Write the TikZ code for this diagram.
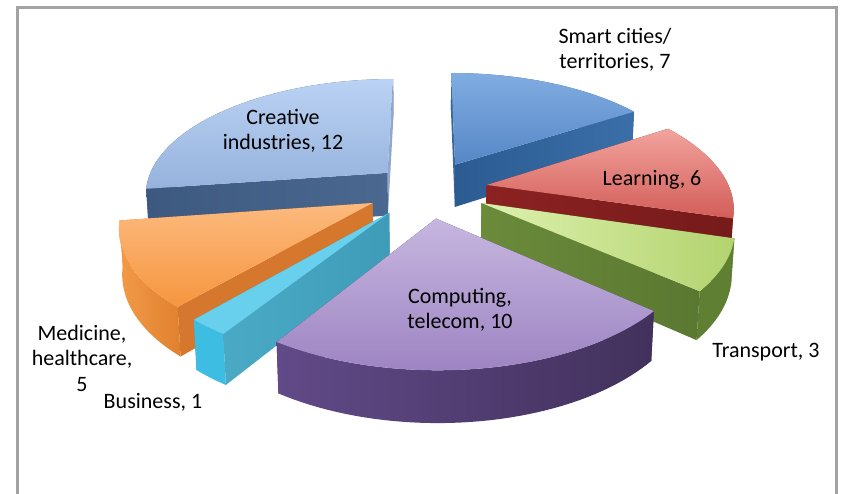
\documentclass[tikz,border=0pt]{standalone}
\usepackage{fontspec}
\setmainfont{Carlito}
\definecolor{frameC}{HTML}{A3A3A3}
\definecolor{smT1}{HTML}{80ACE1}\definecolor{smT2}{HTML}{5687C6}
\definecolor{smS1}{HTML}{2B5B91}\definecolor{smS2}{HTML}{3B6FA9}
\definecolor{smE}{HTML}{3A679C}
\definecolor{crT1}{HTML}{BAD2F4}\definecolor{crT2}{HTML}{96B2DC}
\definecolor{crS1}{HTML}{3D5980}\definecolor{crS2}{HTML}{4A6890}
\definecolor{crE}{HTML}{8FA8CC}
\definecolor{lrT1}{HTML}{F2A39D}\definecolor{lrT2}{HTML}{D35D58}
\definecolor{lrS1}{HTML}{8C2222}\definecolor{lrS2}{HTML}{761A1A}
\definecolor{lrO}{HTML}{9A2E2B}
\definecolor{mdT1}{HTML}{FCBA7E}\definecolor{mdT2}{HTML}{F6963F}
\definecolor{mdO1}{HTML}{F29A48}\definecolor{mdO2}{HTML}{E0812F}
\definecolor{mdR}{HTML}{D5772D}
\definecolor{trT1}{HTML}{DDF1AE}\definecolor{trT2}{HTML}{B3D36F}
\definecolor{trS1}{HTML}{6B8B3B}\definecolor{trS2}{HTML}{5A7830}
\definecolor{trO}{HTML}{5F7F33}
\definecolor{buT}{HTML}{68CFEC}
\definecolor{buS1}{HTML}{4AAAC6}\definecolor{buS2}{HTML}{3F9CB8}
\definecolor{buO}{HTML}{3DBDE2}
\definecolor{cpT1}{HTML}{C6B6DF}\definecolor{cpT2}{HTML}{9E85C3}
\definecolor{cpO1}{HTML}{614A88}\definecolor{cpO2}{HTML}{42315C}
\newcommand\slc[3]{%
  \pgfmathsetmacro\sa{#1}%
  \pgfmathsetmacro\sb{#2}%
  \pgfmathsetmacro\sm{(#1+#2)/2}%
  \pgfmathsetmacro\sox{#3*cos(\sm)}%
  \pgfmathsetmacro\soy{#3*sin(\sm)}%
}
\def\thk{0.2}
\newcommand\topface[1]{%
  \path[#1] ({PX(\sox,\soy,0)},{PY(\sox,\soy,0)})
    -- plot[domain=\sa:\sb,samples=45,variable=\q]
       ({PX(\sox+cos(\q),\soy+sin(\q),0)},{PY(\sox+cos(\q),\soy+sin(\q),0)})
    -- cycle;}
\newcommand\outface[1]{%
  \path[#1] plot[domain=\sa:\sb,samples=45,variable=\q]
       ({PX(\sox+cos(\q),\soy+sin(\q),0)},{PY(\sox+cos(\q),\soy+sin(\q),0)})
    -- plot[domain=\sb:\sa,samples=45,variable=\q]
       ({PX(\sox+cos(\q),\soy+sin(\q),-\thk)},{PY(\sox+cos(\q),\soy+sin(\q),-\thk)})
    -- cycle;}
\newcommand\radface[2]{%
  \path[#2] ({PX(\sox,\soy,0)},{PY(\sox,\soy,0)})
    -- ({PX(\sox+cos(#1),\soy+sin(#1),0)},{PY(\sox+cos(#1),\soy+sin(#1),0)})
    -- ({PX(\sox+cos(#1),\soy+sin(#1),-\thk)},{PY(\sox+cos(#1),\soy+sin(#1),-\thk)})
    -- ({PX(\sox,\soy,-\thk)},{PY(\sox,\soy,-\thk)}) -- cycle;}
\begin{document}
\begin{tikzpicture}[x=1pt,y=1pt,
  declare function={
    PX(\pu,\pv,\pz)=427+243*\pu/(1+0.169*\pv-0.05*\pz);
    PY(\pu,\pv,\pz)=305+(114.7*\pv+220*\pz)/(1+0.169*\pv-0.05*\pz);
  },
  lbl/.style={font=\fontsize{22}{25.5}\selectfont, align=center, text=black, inner sep=0pt},
  frame/.style={draw=frameC, line width=2.5pt}
]
\useasboundingbox (0,0) rectangle (843,494);
\fill[white] (0,0) rectangle (843,494);
\draw[frame] (17.5,0) -- (17.5,486.5) -- (836.5,486.5) -- (836.5,0);

% Smart cities
\slc{32.727}{90}{0.25}
\outface{fill=smS1}
\radface{90}{fill=smE}
\radface{32.727}{left color=smS1,right color=smS2}
\topface{top color=smT1,bottom color=smT2}

% Creative industries
\slc{90}{188.182}{0.22}
\outface{fill=crS1}
\radface{90}{fill=crE}
\radface{188.182}{left color=crS1,right color=crS2}
\topface{top color=crT1,bottom color=crT2}

% Learning
\slc{-16.364}{32.727}{0.25}
\radface{32.727}{fill=lrS2}
\outface{fill=lrO}
\radface{-16.364}{left color=lrS1,right color=lrS2}
\topface{top color=lrT1,bottom color=lrT2}

% Medicine
\slc{-171.818}{-130.909}{0.25}
\radface{-171.818}{fill=mdR}
\outface{left color=mdO1,right color=mdO2}
\radface{-130.909}{fill=mdR}
\topface{top color=mdT1,bottom color=mdT2}

% Transport
\slc{-40.909}{-16.364}{0.25}
\radface{-16.364}{fill=trS2}
\outface{fill=trO}
\radface{-40.909}{left color=trS1,right color=trS2}
\topface{left color=trT1,right color=trT2}

% Business
\slc{-130.909}{-122.727}{0.25}
\radface{-130.909}{fill=buS2}
\outface{fill=buO}
\radface{-122.727}{left color=buS1,right color=buS2}
\topface{fill=buT}

% Computing
\slc{-122.727}{-40.909}{0.25}
\radface{-122.727}{fill=cpO2}
\radface{-40.909}{fill=cpO2}
\outface{left color=cpO1,right color=cpO2}
\topface{top color=cpT1,bottom color=cpT2}

% labels
\node[lbl] (lsmart) at (615,444) {Smart cities/\\territories, 7};
\node[lbl] (lcreative) at (283,363) {Creative\\industries, 12};
\node[lbl] (llearning) at (652,314) {Learning, 6};
\node[lbl] (lcomputing) at (460,184) {Computing,\\telecom, 10};
\node[lbl] (ltransport) at (766,142) {Transport, 3};
\node[lbl] (lmedicine) at (82,136) {Medicine,\\healthcare,\\5};
\node[lbl] (lbusiness) at (153,92) {Business, 1};
\end{tikzpicture}
\end{document}
